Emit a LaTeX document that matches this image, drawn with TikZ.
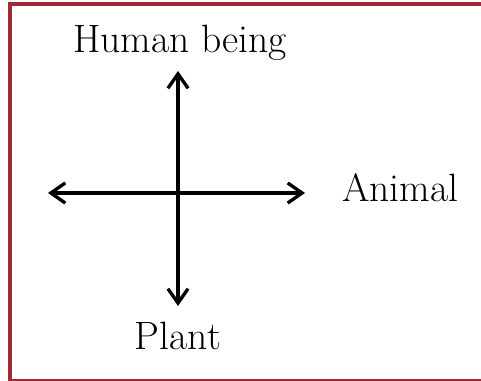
\documentclass[tikz,border=0pt]{standalone}
\usetikzlibrary{arrows.meta,positioning}

\definecolor{framered}{HTML}{9E2A35}

\begin{document}
\begin{tikzpicture}[
        x=0.02cm, y=-0.02cm,
        lbl/.style={inner sep=0pt, font=\fontsize{22.5}{26}\selectfont},
        axis/.style={{Straight Barb[angle=70:10pt,line width=1.9pt]}-{Straight Barb[angle=70:10pt,line width=1.9pt]}, line width=1.9pt},
        frame/.style={fill=framered}
    ]
        \useasboundingbox (0,0) rectangle (481,381);

        % frame
        \path[frame] (8,2) rectangle (481,6);
        \path[frame] (8,2) rectangle (12,381);
        \path[frame] (8,379) rectangle (481,381);

        % axes
        \coordinate (o) at (178,193);
        \coordinate (top) at (178,71);
        \coordinate (bottom) at (178,306);
        \coordinate (west) at (48,193);
        \coordinate (east) at (305,193);

        \draw[axis] (west) -- (east);
        \draw[axis] (bottom) -- (top);

        % labels
        \node[lbl, anchor=base] (human) at (180,53) {Human being};
        \node[lbl, anchor=base west] (animal) at (342,202) {Animal};
        \node[lbl, anchor=base] (plant) at (178,350) {Plant};
    \end{tikzpicture}
\end{document}
